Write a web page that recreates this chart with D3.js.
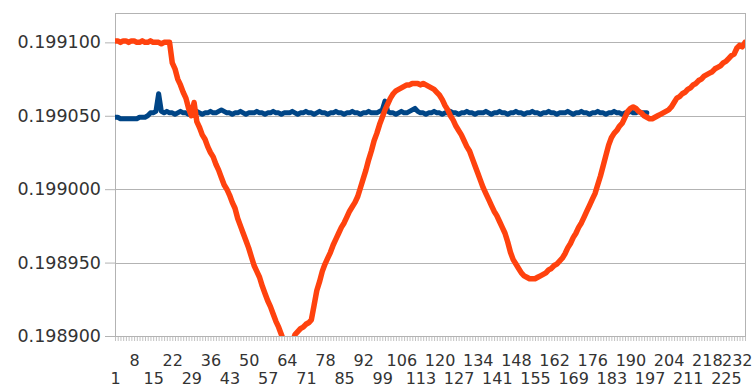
<!DOCTYPE html>
<html>
<head>
<meta charset="utf-8">
<script src="https://cdn.jsdelivr.net/npm/d3@7"></script>
<style>
  body { margin: 0; background: #fff; }
  svg { display: block; }
  svg text { font-family: "DejaVu Sans", sans-serif; }
</style>
</head>
<body>
<div id="chart"></div>
<script>
const categories = d3.range(1, 233)

const tickLabels = [1, 8, 15, 22, 29, 36, 43, 50, 57, 64, 71, 78, 85, 92, 99, 106, 113,
  120, 127, 134, 141, 148, 155, 162, 169, 176, 183, 190, 197, 204, 211, 218, 225, 232]

const yTicks = [0.1989, 0.19895, 0.199, 0.19905, 0.1991]

// series 1 (dark blue), stops at point 196
const seriesBlue = [
  0.199049, 0.199049, 0.199048, 0.199048, 0.199048, 0.199048, 0.199048, 0.199048, 0.199048, 0.199049,
  0.199049, 0.199049, 0.199050, 0.199052, 0.199052, 0.199053, 0.199065, 0.199053, 0.199052, 0.199053,
  0.199052, 0.199052, 0.199051, 0.199052, 0.199053, 0.199052, 0.199052, 0.199051, 0.199052, 0.199052,
  0.199053, 0.199052, 0.199051, 0.199052, 0.199052, 0.199053, 0.199052, 0.199052, 0.199053, 0.199054,
  0.199053, 0.199052, 0.199052, 0.199051, 0.199052, 0.199052, 0.199053, 0.199052, 0.199051, 0.199052,
  0.199052, 0.199052, 0.199053, 0.199052, 0.199052, 0.199051, 0.199052, 0.199052, 0.199053, 0.199052,
  0.199052, 0.199051, 0.199052, 0.199052, 0.199052, 0.199053, 0.199052, 0.199051, 0.199052, 0.199052,
  0.199053, 0.199052, 0.199052, 0.199051, 0.199052, 0.199053, 0.199052, 0.199052, 0.199051, 0.199052,
  0.199052, 0.199053, 0.199052, 0.199052, 0.199051, 0.199052, 0.199052, 0.199053, 0.199052, 0.199052,
  0.199051, 0.199052, 0.199052, 0.199053, 0.199052, 0.199052, 0.199052, 0.199053, 0.199054, 0.199060,
  0.199053, 0.199052, 0.199052, 0.199051, 0.199052, 0.199053, 0.199052, 0.199052, 0.199053, 0.199054,
  0.199055, 0.199053, 0.199052, 0.199052, 0.199051, 0.199052, 0.199052, 0.199053, 0.199052, 0.199052,
  0.199051, 0.199052, 0.199052, 0.199053, 0.199052, 0.199052, 0.199051, 0.199052, 0.199052, 0.199053,
  0.199052, 0.199052, 0.199051, 0.199052, 0.199052, 0.199052, 0.199053, 0.199052, 0.199051, 0.199052,
  0.199052, 0.199053, 0.199052, 0.199052, 0.199051, 0.199052, 0.199052, 0.199053, 0.199052, 0.199052,
  0.199051, 0.199052, 0.199052, 0.199053, 0.199052, 0.199052, 0.199051, 0.199052, 0.199052, 0.199053,
  0.199052, 0.199052, 0.199051, 0.199052, 0.199052, 0.199052, 0.199053, 0.199052, 0.199051, 0.199052,
  0.199052, 0.199053, 0.199052, 0.199052, 0.199051, 0.199052, 0.199052, 0.199053, 0.199052, 0.199052,
  0.199051, 0.199052, 0.199052, 0.199053, 0.199052, 0.199052, 0.199051, 0.199052, 0.199052, 0.199053,
  0.199052, 0.199052, 0.199053, 0.199052, 0.199052, 0.199052
]

// series 2 (orange), full length
const seriesOrange = [
  0.199101, 0.199101, 0.199100, 0.199101, 0.199101, 0.199100, 0.199101, 0.199101, 0.199100, 0.199100,
  0.199101, 0.199100, 0.199100, 0.199101, 0.199100, 0.199100, 0.199100, 0.199099, 0.199100, 0.199100,
  0.199100, 0.199086, 0.199082, 0.199075, 0.199071, 0.199066, 0.199062, 0.199055, 0.199050, 0.199059,
  0.199046, 0.199042, 0.199037, 0.199034, 0.199029, 0.199025, 0.199022, 0.199017, 0.199013, 0.199008,
  0.199003, 0.199000, 0.198996, 0.198991, 0.198987, 0.198980, 0.198975, 0.198970, 0.198965, 0.198960,
  0.198954, 0.198948, 0.198944, 0.198940, 0.198934, 0.198929, 0.198924, 0.198920, 0.198915, 0.198910,
  0.198906, 0.198901, 0.198896, 0.198893, 0.198891, 0.198895, 0.198901, 0.198903, 0.198905, 0.198906,
  0.198908, 0.198909, 0.198911, 0.198921, 0.198931, 0.198937, 0.198944, 0.198949, 0.198953, 0.198957,
  0.198962, 0.198966, 0.198970, 0.198974, 0.198977, 0.198981, 0.198985, 0.198988, 0.198991, 0.198995,
  0.199001, 0.199007, 0.199013, 0.199020, 0.199026, 0.199033, 0.199038, 0.199044, 0.199049, 0.199054,
  0.199058, 0.199062, 0.199065, 0.199067, 0.199068, 0.199069, 0.199070, 0.199071, 0.199071, 0.199072,
  0.199072, 0.199072, 0.199071, 0.199072, 0.199071, 0.199070, 0.199069, 0.199068, 0.199066, 0.199064,
  0.199061, 0.199057, 0.199054, 0.199050, 0.199047, 0.199043, 0.199040, 0.199037, 0.199033, 0.199029,
  0.199026, 0.199021, 0.199016, 0.199011, 0.199006, 0.199001, 0.198997, 0.198993, 0.198989, 0.198985,
  0.198982, 0.198978, 0.198974, 0.198970, 0.198964, 0.198957, 0.198952, 0.198949, 0.198946, 0.198943,
  0.198941, 0.198940, 0.198939, 0.198939, 0.198939, 0.198940, 0.198941, 0.198942, 0.198943, 0.198945,
  0.198946, 0.198948, 0.198949, 0.198951, 0.198953, 0.198956, 0.198960, 0.198963, 0.198967, 0.198970,
  0.198974, 0.198977, 0.198981, 0.198985, 0.198989, 0.198993, 0.198997, 0.199003, 0.199009, 0.199016,
  0.199023, 0.199030, 0.199035, 0.199038, 0.199040, 0.199043, 0.199045, 0.199049, 0.199053, 0.199055,
  0.199056, 0.199055, 0.199053, 0.199052, 0.199050, 0.199049, 0.199048, 0.199048, 0.199049, 0.199050,
  0.199051, 0.199052, 0.199053, 0.199054, 0.199056, 0.199059, 0.199062, 0.199063, 0.199065, 0.199066,
  0.199068, 0.199069, 0.199071, 0.199072, 0.199074, 0.199075, 0.199077, 0.199078, 0.199079, 0.199080,
  0.199082, 0.199083, 0.199084, 0.199086, 0.199087, 0.199089, 0.199091, 0.199092, 0.199096, 0.199098,
  0.199097, 0.199100
]

const width = 752,
  height = 390
const margin = { top: 13, right: 7, bottom: 54, left: 115 }
const innerW = width - margin.left - margin.right,
  innerH = height - margin.top - margin.bottom

const gridColor = "#b3b3b3"
const textColor = "#333"

const x = d3.scalePoint()
  .domain(categories)
  .range([0, innerW])

const y = d3.scaleLinear()
  .domain([0.1989, 0.19912])
  .range([innerH, 0])

const svg = d3.select("#chart").append("svg")
  .attr("width", width)
  .attr("height", height)

const g = svg.append("g")
  .attr("transform", `translate(${margin.left},${margin.top})`)

g.append("clipPath")
    .attr("id", "plot-clip")
  .append("rect")
    .attr("width", innerW)
    .attr("height", innerH)

// horizontal grid
g.append("g")
  .selectAll("line")
  .data(yTicks)
  .enter().append("line")
    .attr("x1", 0)
    .attr("x2", innerW)
    .attr("y1", d => Math.round(y(d)) + 0.5)
    .attr("y2", d => Math.round(y(d)) + 0.5)
    .attr("stroke", gridColor)

// y axis
const yAxis = g.append("g")
  .call(d3.axisLeft(y).tickValues(yTicks).tickFormat(d3.format(".6f")).tickSize(10).tickPadding(4))
yAxis.attr("font-family", null)
yAxis.select(".domain").remove()
yAxis.selectAll("line").attr("stroke", gridColor)
yAxis.selectAll("text")
  .attr("fill", textColor)
  .style("font-size", "17.5px")

// x axis: minor ticks on every category
const xTicks = g.append("g")
  .attr("transform", `translate(0,${innerH})`)
  .call(d3.axisBottom(x).tickValues(categories).tickFormat("").tickSize(5))
xTicks.select(".domain").remove()
xTicks.selectAll("line").attr("stroke", gridColor).attr("stroke-width", 0.8)

// x labels every 7th, staggered in two rows
const xLabels = g.append("g")
  .attr("transform", `translate(0,${innerH})`)
  .call(d3.axisBottom(x).tickValues(tickLabels).tickSize(0))
xLabels.attr("font-family", null)
xLabels.select(".domain").remove()
xLabels.selectAll("text")
  .attr("fill", textColor)
  .style("font-size", "16px")
  .attr("y", (d, i) => i % 2 === 0 ? 37 : 19)
  .each(function () {
    // keep the last label inside the picture
    const t = d3.select(this)
    const box = this.getBBox()
    const tx = x(+t.text())
    const over = margin.left + tx + box.width / 2 - width
    if (over > 0) t.attr("x", -over)
  })

// plot frame
g.append("rect")
  .attr("x", 0.5)
  .attr("y", 0.5)
  .attr("width", innerW)
  .attr("height", innerH)
  .attr("fill", "none")
  .attr("stroke", gridColor)

const line = d3.line()
  .x((d, i) => x(categories[i]))
  .y(d => y(d))

const lines = g.append("g").attr("clip-path", "url(#plot-clip)")

lines.append("path")
  .datum(seriesBlue)
  .attr("fill", "none")
  .attr("stroke", "#004586")
  .attr("stroke-width", 5)
  .attr("stroke-linejoin", "round")
  .attr("stroke-linecap", "round")
  .attr("d", line)

lines.append("path")
  .datum(seriesOrange)
  .attr("fill", "none")
  .attr("stroke", "#ff420e")
  .attr("stroke-width", 5.5)
  .attr("stroke-linejoin", "round")
  .attr("stroke-linecap", "round")
  .attr("d", line)
</script>
</body>
</html>
